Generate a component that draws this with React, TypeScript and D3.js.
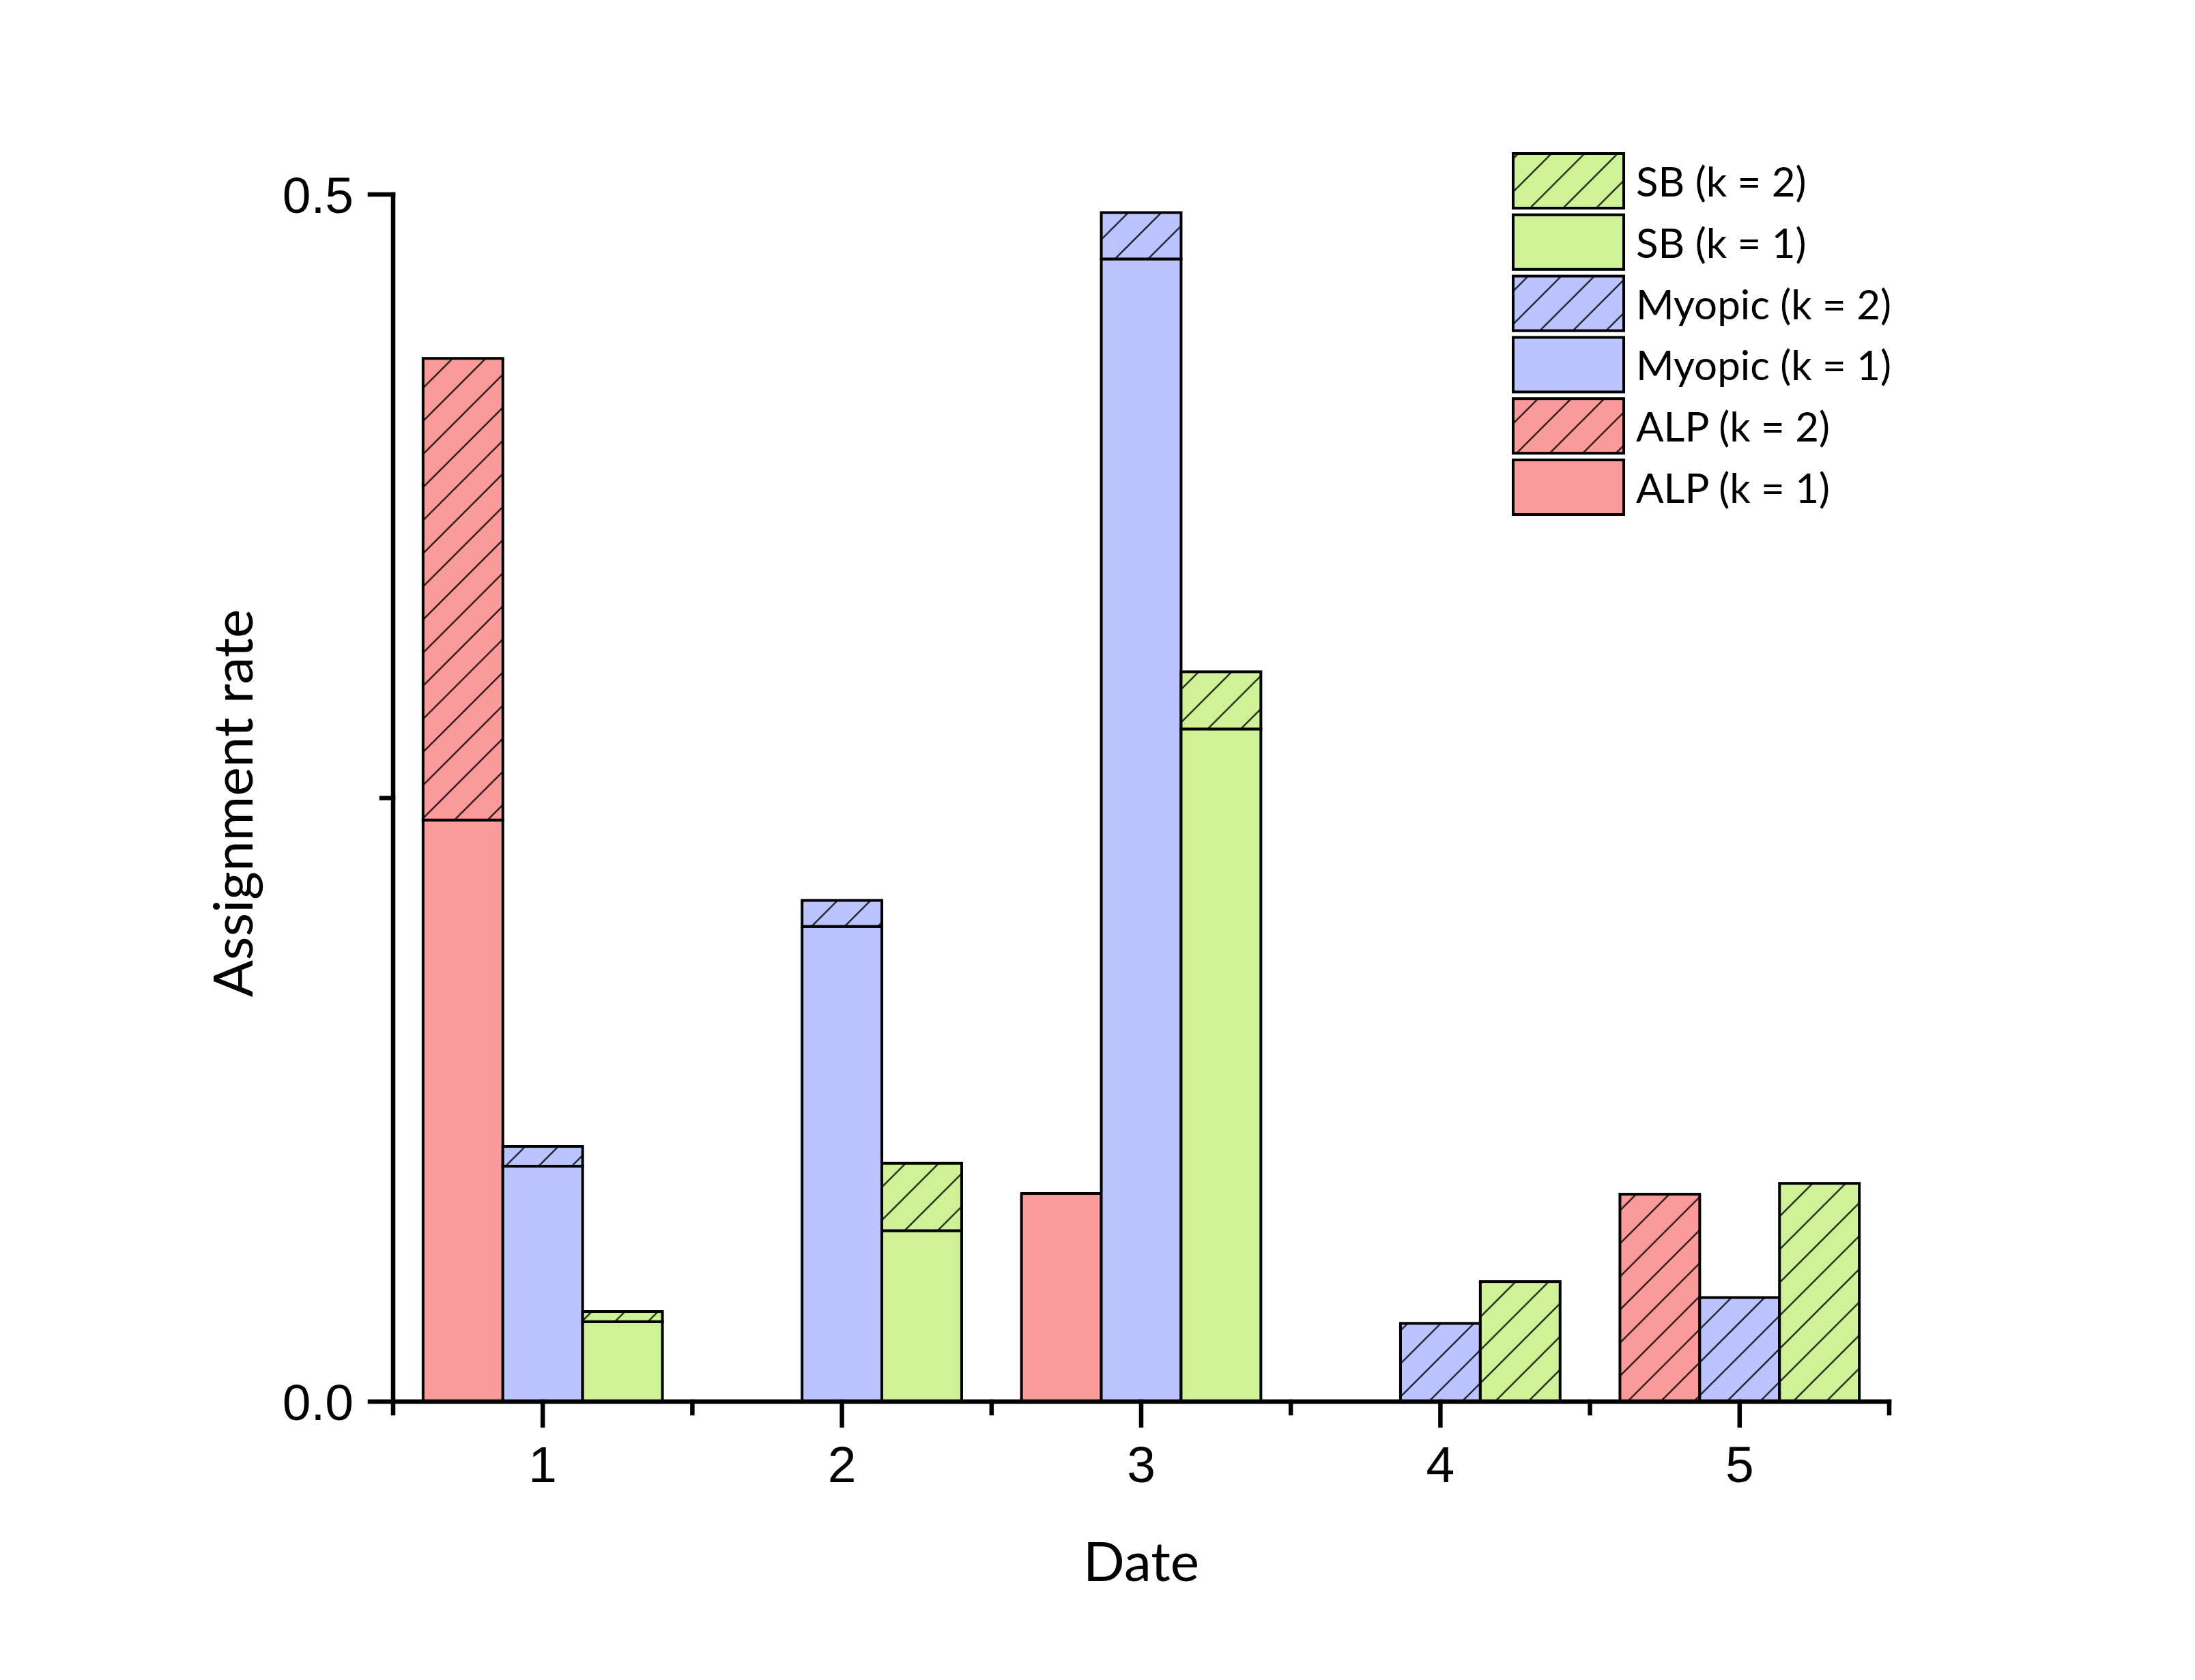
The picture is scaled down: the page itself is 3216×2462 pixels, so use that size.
import React from "react";
import * as d3 from "d3";

const dates = [1, 2, 3, 4, 5];
const alpK1 = [0.2409, 0, 0.0862, 0, 0];
const alpK2 = [0.1912, 0, 0, 0, 0.0859];
const myopicK1 = [0.0975, 0.1968, 0.4733, 0, 0];
const myopicK2 = [0.0082, 0.0108, 0.0192, 0.0324, 0.0431];
const sbK1 = [0.0331, 0.0708, 0.2786, 0, 0];
const sbK2 = [0.0042, 0.0279, 0.0237, 0.0497, 0.0904];

const yMajorTicks = [0, 0.5];
const yMinorTicks = [0.25];
const xMinorTicks = [0.5, 1.5, 2.5, 3.5, 4.5, 5.5];

const seriesNames = ["ALP", "Myopic", "SB"];
const seriesColors = ["#FA9A9A", "#BBC4FE", "#D0F297"];
const k1Data = [alpK1, myopicK1, sbK1];
const k2Data = [alpK2, myopicK2, sbK2];

const W = 3216;
const H = 2462;

export default function App() {
  const x = d3.scaleLinear().domain([0.5, 5.5]).range([576, 2768]);
  const y = d3.scaleLinear().domain([0, 0.5]).range([2054, 285]);
  const barW = 0.8 / 3;
  const fmt = d3.format(".1f");

  const bars: React.ReactNode[] = [];
  seriesNames.forEach((name, si) => {
    dates.forEach((d, di) => {
      const left = x(d + (si - 1.5) * barW);
      const right = x(d + (si - 0.5) * barW);
      const v1 = k1Data[si][di];
      const v2 = k2Data[si][di];
      if (v1 > 0) {
        bars.push(
          <rect
            key={`k1-${si}-${di}`}
            x={left}
            y={y(v1)}
            width={right - left}
            height={y(0) - y(v1)}
            fill={seriesColors[si]}
            stroke="#000"
            strokeWidth={4}
          />
        );
      }
      if (v2 > 0) {
        bars.push(
          <rect
            key={`k2-${si}-${di}`}
            x={left}
            y={y(v1 + v2)}
            width={right - left}
            height={y(v1) - y(v1 + v2)}
            fill={`url(#hatch-${si})`}
            stroke="#000"
            strokeWidth={4}
          />
        );
      }
    });
  });

  const legendItems = [
    { label: "SB (k = 2)", si: 2, hatch: true },
    { label: "SB (k = 1)", si: 2, hatch: false },
    { label: "Myopic (k = 2)", si: 1, hatch: true },
    { label: "Myopic (k = 1)", si: 1, hatch: false },
    { label: "ALP (k = 2)", si: 0, hatch: true },
    { label: "ALP (k = 1)", si: 0, hatch: false },
  ];

  const pw = 34.3;

  return (
    <svg
      width={W}
      height={H}
      viewBox={`0 0 ${W} ${H}`}
      style={{ position: "absolute", left: 0, top: 0, background: "#fff" }}
    >
      <defs>
        {seriesColors.map((c, i) => (
          <pattern
            key={i}
            id={`hatch-${i}`}
            patternUnits="userSpaceOnUse"
            width={pw}
            height={pw}
            patternTransform="rotate(45)"
          >
            <rect x={0} y={0} width={pw} height={pw} fill={c} />
            <line x1={pw / 2} y1={-2} x2={pw / 2} y2={pw + 2} stroke="#000" strokeWidth={2} />
          </pattern>
        ))}
      </defs>
      <rect x={0} y={0} width={W} height={H} fill="#fff" />

      {bars}

      {/* axes */}
      <g stroke="#000" strokeWidth={6.5} strokeLinecap="square">
        <line x1={x(0.5)} y1={y(0)} x2={x(5.5)} y2={y(0)} />
        <line x1={x(0.5)} y1={y(0)} x2={x(0.5)} y2={y(0.5)} />
        {yMajorTicks.map((t) => (
          <line key={`ym${t}`} x1={x(0.5) - 34} y1={y(t)} x2={x(0.5)} y2={y(t)} />
        ))}
        {yMinorTicks.map((t) => (
          <line key={`yn${t}`} x1={x(0.5) - 17} y1={y(t)} x2={x(0.5)} y2={y(t)} />
        ))}
        {dates.map((t) => (
          <line key={`xm${t}`} x1={x(t)} y1={y(0)} x2={x(t)} y2={y(0) + 35} />
        ))}
        {xMinorTicks.map((t) => (
          <line key={`xn${t}`} x1={x(t)} y1={y(0)} x2={x(t)} y2={y(0) + 17} />
        ))}
      </g>

      <g fontFamily="'Liberation Sans', Arial, sans-serif" fontSize={75} fill="#000">
        {yMajorTicks.map((t) => (
          <text key={`yl${t}`} x={518} y={y(t) + 27} textAnchor="end">
            {fmt(t)}
          </text>
        ))}
        {dates.map((t) => (
          <text key={`xl${t}`} x={x(t)} y={2172} textAnchor="middle">
            {t}
          </text>
        ))}
      </g>

      <g fontFamily="Lato, 'Open Sans', sans-serif" fontSize={80} fill="#000">
        <text x={(x(0.5) + x(5.5)) / 2} y={2317} textAnchor="middle">
          Date
        </text>
        <text transform={`translate(370,1177) rotate(-90)`} textAnchor="middle">
          Assignment rate
        </text>
      </g>

      <g fontFamily="Lato, 'Open Sans', sans-serif" fontSize={60} fill="#000">
        {legendItems.map((it, i) => {
          const top = 225 + i * 89.8;
          return (
            <g key={it.label}>
              <rect
                x={2217}
                y={top}
                width={162}
                height={80}
                fill={it.hatch ? `url(#hatch-${it.si})` : seriesColors[it.si]}
                stroke="#000"
                strokeWidth={4}
              />
              <text x={2397} y={top + 63}>
                {it.label}
              </text>
            </g>
          );
        })}
      </g>
    </svg>
  );
}
